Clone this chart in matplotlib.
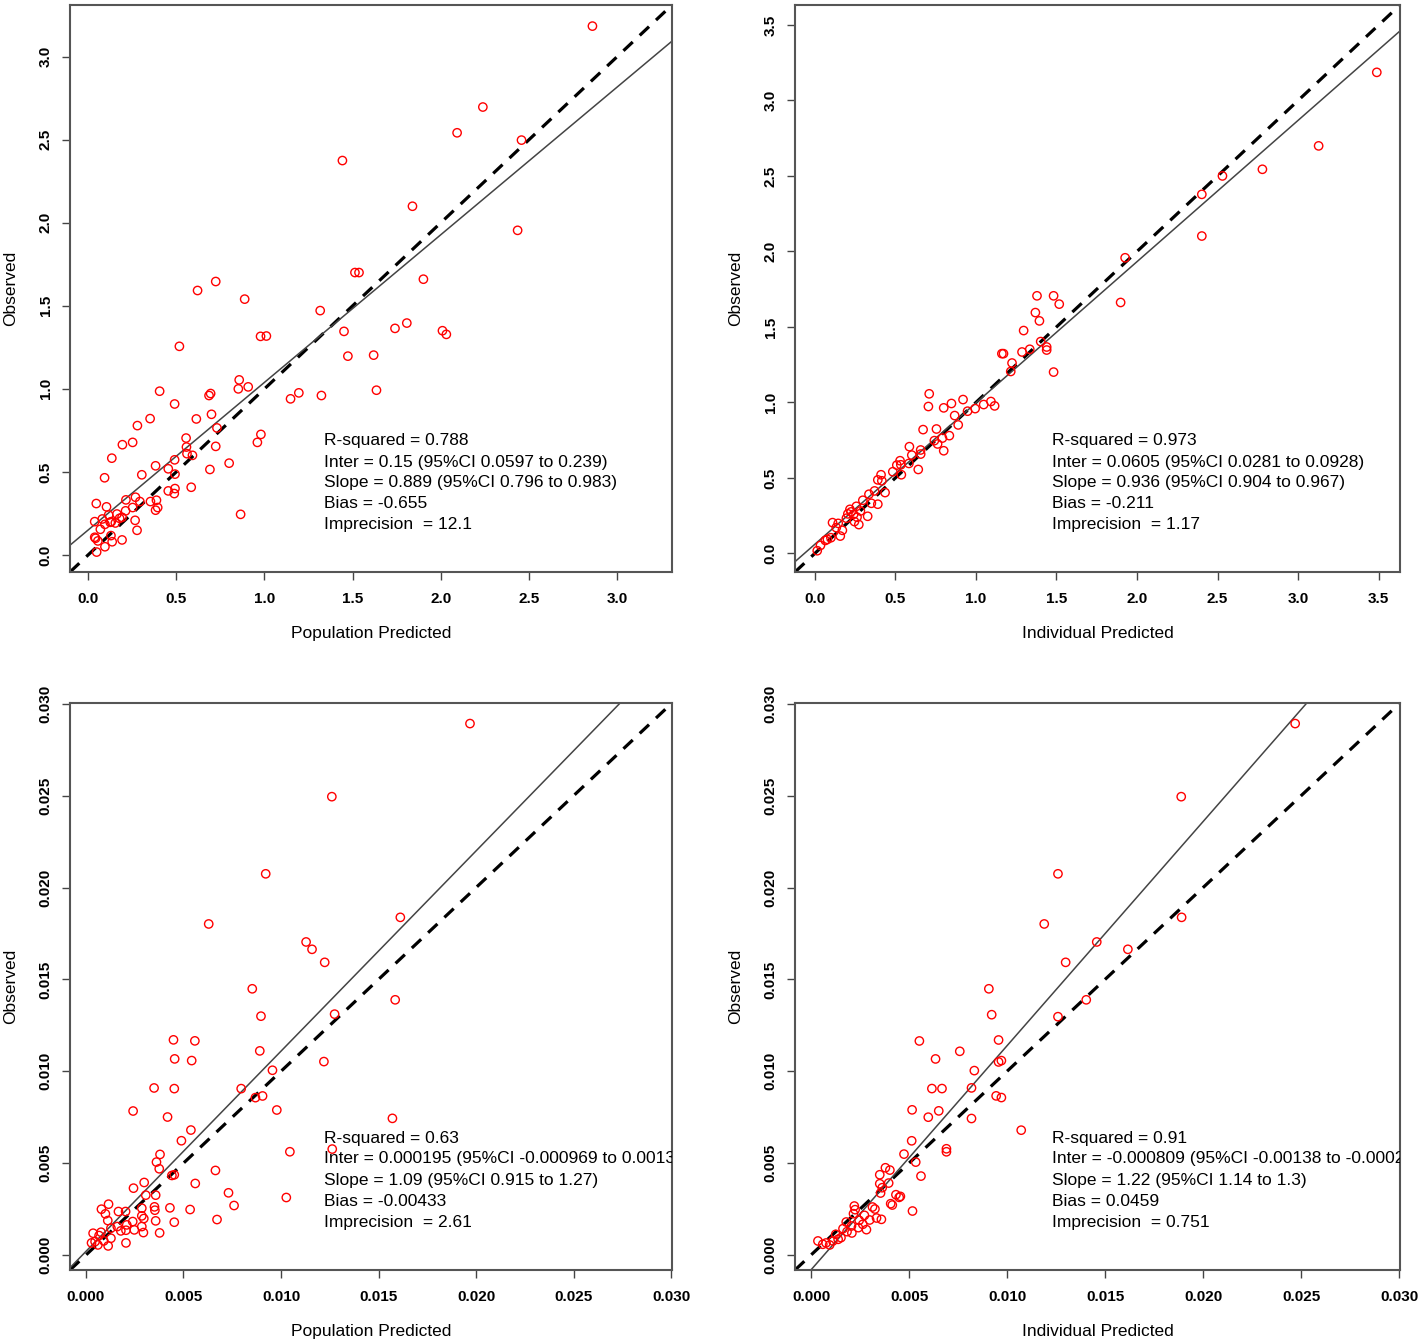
import matplotlib
matplotlib.use("Agg")
import matplotlib.pyplot as plt
import numpy as np

plt.rcParams['font.family'] = ['Liberation Sans', 'DejaVu Sans']

# ---------------- data ----------------
pop_pred_1 = [2.859, 2.238, 2.092, 2.457, 1.442, 1.839, 2.435, 1.513, 1.536, 1.901, 0.621, 0.724, 0.888,
              1.316, 1.451, 1.740, 1.807, 2.009, 2.031, 0.978, 1.011, 0.518, 1.473, 1.619, 0.857, 0.852,
              0.908, 0.406, 0.686, 0.695, 1.148, 1.195, 1.323, 1.635, 0.491, 0.352, 0.614, 0.700, 0.280,
              0.731, 0.195, 0.253, 0.556, 0.558, 0.980, 0.960, 0.724, 0.135, 0.561, 0.592, 0.491, 0.383,
              0.455, 0.691, 0.800, 0.305, 0.493, 0.094, 0.455, 0.493, 0.489, 0.585, 0.215, 0.269, 0.294,
              0.354, 0.388, 0.383, 0.395, 0.047, 0.105, 0.253, 0.213, 0.164, 0.179, 0.193, 0.081, 0.117,
              0.038, 0.126, 0.132, 0.267, 0.096, 0.155, 0.070, 0.278, 0.130, 0.038, 0.043, 0.056, 0.137,
              0.193, 0.096, 0.049, 0.865]
obs_1 = [3.183, 2.696, 2.541, 2.497, 2.374, 2.099, 1.954, 1.700, 1.700, 1.660, 1.592, 1.646, 1.540,
         1.471, 1.346, 1.364, 1.396, 1.350, 1.328, 1.316, 1.318, 1.256, 1.197, 1.203, 1.054, 1.000,
         1.012, 0.986, 0.960, 0.972, 0.940, 0.976, 0.960, 0.992, 0.909, 0.821, 0.819, 0.847, 0.779,
         0.765, 0.664, 0.678, 0.704, 0.650, 0.726, 0.678, 0.654, 0.583, 0.610, 0.600, 0.573, 0.537,
         0.519, 0.515, 0.553, 0.483, 0.487, 0.465, 0.386, 0.400, 0.370, 0.408, 0.332, 0.348, 0.322,
         0.322, 0.330, 0.270, 0.286, 0.310, 0.290, 0.286, 0.266, 0.247, 0.221, 0.227, 0.217, 0.241,
         0.201, 0.197, 0.201, 0.209, 0.185, 0.193, 0.155, 0.149, 0.117, 0.107, 0.101, 0.085, 0.080,
         0.091, 0.050, 0.018, 0.245]

ind_pred_2 = [3.488, 3.127, 2.778, 2.530, 2.402, 2.402, 1.926, 1.379, 1.482, 1.898, 1.517, 1.369, 1.394,
              1.296, 1.402, 1.334, 1.286, 1.439, 1.439, 1.161, 1.171, 1.224, 1.216, 1.482, 0.710, 0.705,
              0.800, 0.848, 0.920, 0.868, 0.948, 0.995, 1.048, 1.093, 1.116, 0.890, 0.672, 0.755, 0.742,
              0.792, 0.835, 0.762, 0.800, 0.587, 0.657, 0.657, 0.602, 0.529, 0.509, 0.534, 0.584, 0.484,
              0.537, 0.642, 0.411, 0.391, 0.416, 0.371, 0.436, 0.336, 0.298, 0.351, 0.391, 0.258, 0.218,
              0.283, 0.328, 0.273, 0.241, 0.196, 0.246, 0.110, 0.145, 0.171, 0.158, 0.100, 0.065, 0.035,
              0.015, 0.133, 0.078, 0.225, 0.262, 0.205]
obs_2 = [3.186, 2.699, 2.544, 2.500, 2.378, 2.102, 1.958, 1.706, 1.706, 1.662, 1.651, 1.595, 1.540,
         1.476, 1.403, 1.352, 1.334, 1.367, 1.347, 1.323, 1.323, 1.261, 1.205, 1.201, 1.057, 0.973,
         0.964, 0.993, 1.019, 0.913, 0.942, 0.959, 0.986, 1.006, 0.977, 0.851, 0.820, 0.824, 0.747,
         0.764, 0.780, 0.725, 0.680, 0.707, 0.685, 0.658, 0.651, 0.614, 0.585, 0.587, 0.596, 0.541,
         0.521, 0.556, 0.521, 0.487, 0.481, 0.414, 0.403, 0.392, 0.352, 0.332, 0.326, 0.312, 0.292,
         0.281, 0.246, 0.191, 0.259, 0.233, 0.211, 0.204, 0.199, 0.153, 0.115, 0.104, 0.086, 0.053,
         0.018, 0.171, 0.093, 0.275, 0.240, 0.262]

pop_pred_3 = [0.019691, 0.012607, 0.009216, 0.006293, 0.016119, 0.011287, 0.011591, 0.012241, 0.008526,
              0.015855, 0.008973, 0.012749, 0.004486, 0.005583, 0.004547, 0.005420, 0.008912, 0.012200,
              0.009562, 0.003492, 0.004527, 0.007958, 0.008689, 0.009054, 0.009785, 0.015713, 0.002416,
              0.004182, 0.005380, 0.004893, 0.012627, 0.010455, 0.003796, 0.003614, 0.003756, 0.006638,
              0.004405, 0.004527, 0.002984, 0.005603, 0.002436, 0.007308, 0.003066, 0.003573, 0.010272,
              0.007593, 0.001157, 0.000792, 0.001665, 0.002030, 0.002862, 0.003512, 0.003532, 0.004304,
              0.005339, 0.000995, 0.002862, 0.002964, 0.001117, 0.003573, 0.004527, 0.006719, 0.002396,
              0.002091, 0.001604, 0.002862, 0.002477, 0.002944, 0.003776, 0.001279, 0.001786, 0.002050,
              0.000365, 0.000771, 0.000670, 0.001279, 0.000914, 0.002050, 0.000284, 0.000609, 0.001137,
              0.000467]
obs_3 = [0.028930, 0.024950, 0.020750, 0.018020, 0.018380, 0.017040, 0.016640, 0.015930, 0.014490,
         0.013890, 0.013000, 0.013110, 0.011710, 0.011655, 0.010673, 0.010582, 0.011109, 0.010527,
         0.010055, 0.009091, 0.009055, 0.009055, 0.008564, 0.008655, 0.007891, 0.007436, 0.007836,
         0.007509, 0.006800, 0.006218, 0.005764, 0.005618, 0.005473, 0.005055, 0.004691, 0.004600,
         0.004327, 0.004364, 0.003945, 0.003891, 0.003636, 0.003382, 0.003255, 0.003255, 0.003127,
         0.002691, 0.002764, 0.002491, 0.002364, 0.002364, 0.002545, 0.002618, 0.002436, 0.002564,
         0.002473, 0.002236, 0.002127, 0.001982, 0.001873, 0.001855, 0.001782, 0.001927, 0.001818,
         0.001636, 0.001545, 0.001545, 0.001364, 0.001218, 0.001200, 0.001455, 0.001309, 0.001345,
         0.001182, 0.001236, 0.001055, 0.000909, 0.000764, 0.000655, 0.000655, 0.000545, 0.000491,
         0.000727]

ind_pred_4 = [0.024701, 0.018887, 0.012598, 0.011897, 0.018907, 0.014577, 0.016165, 0.012990, 0.009072,
              0.014041, 0.009216, 0.012598, 0.005526, 0.009567, 0.007588, 0.006351, 0.009567, 0.009711,
              0.008330, 0.006165, 0.006680, 0.008186, 0.009443, 0.009711, 0.005155, 0.006515, 0.005980,
              0.008186, 0.010722, 0.005134, 0.006907, 0.006907, 0.004742, 0.005340, 0.003794, 0.004021,
              0.003505, 0.005608, 0.003959, 0.003505, 0.003629, 0.003546, 0.004330, 0.004557, 0.004495,
              0.004062, 0.004144, 0.005175, 0.002206, 0.002247, 0.003134, 0.003258, 0.002722, 0.002165,
              0.002990, 0.003340, 0.003588, 0.001794, 0.002454, 0.002639, 0.002412, 0.002825, 0.002062,
              0.001629, 0.001835, 0.002082, 0.001258, 0.001381, 0.001113, 0.000763, 0.000351, 0.000948,
              0.000598, 0.001526]
obs_4 = [0.028930, 0.024950, 0.020750, 0.018020, 0.018380, 0.017040, 0.016640, 0.015930, 0.014490,
         0.013890, 0.013080, 0.012971, 0.011650, 0.011703, 0.011087, 0.010671, 0.010507, 0.010580,
         0.010036, 0.009058, 0.009058, 0.009094, 0.008660, 0.008569, 0.007900, 0.007844, 0.007500,
         0.007428, 0.006793, 0.006214, 0.005780, 0.005616, 0.005490, 0.005054, 0.004746, 0.004620,
         0.004366, 0.004293, 0.003913, 0.003877, 0.003660, 0.003370, 0.003279, 0.003188, 0.003134,
         0.002790, 0.002717, 0.002391, 0.002663, 0.002464, 0.002609, 0.002500, 0.002156, 0.002246,
         0.001902, 0.002011, 0.001938, 0.001793, 0.001884, 0.001667, 0.001486, 0.001377, 0.001576,
         0.001431, 0.001268, 0.001196, 0.001123, 0.000851, 0.000761, 0.000652, 0.000761, 0.000543,
         0.000580, 0.000942]

fit_inter = [0.15, 0.0605, 0.000195, -0.000809]
fit_slope = [0.889, 0.936, 1.09, 1.22]

stats_text = [
    ["R-squared = 0.788", "Inter = 0.15 (95%CI 0.0597 to 0.239)", "Slope = 0.889 (95%CI 0.796 to 0.983)",
     "Bias = -0.655", "Imprecision  = 12.1"],
    ["R-squared = 0.973", "Inter = 0.0605 (95%CI 0.0281 to 0.0928)", "Slope = 0.936 (95%CI 0.904 to 0.967)",
     "Bias = -0.211", "Imprecision  = 1.17"],
    ["R-squared = 0.63", "Inter = 0.000195 (95%CI -0.000969 to 0.00136)", "Slope = 1.09 (95%CI 0.915 to 1.27)",
     "Bias = -0.00433", "Imprecision  = 2.61"],
    ["R-squared = 0.91", "Inter = -0.000809 (95%CI -0.00138 to -0.000237)", "Slope = 1.22 (95%CI 1.14 to 1.3)",
     "Bias = 0.0459", "Imprecision  = 0.751"],
]
xlabels = ["Population Predicted", "Individual Predicted", "Population Predicted", "Individual Predicted"]
ylabel = "Observed"
ticks_top_left = [0.0, 0.5, 1.0, 1.5, 2.0, 2.5, 3.0]
ticks_top_right = [0.0, 0.5, 1.0, 1.5, 2.0, 2.5, 3.0, 3.5]
ticks_bottom = [0.000, 0.005, 0.010, 0.015, 0.020, 0.025, 0.030]

# ---------------- layout ----------------
W, H = 1418, 1342
fig = plt.figure(figsize=(W / 100, H / 100), dpi=100)

def frac_box(l, r, t, b):
    return [l / W, 1 - b / H, (r - l) / W, (b - t) / H]

boxes = [frac_box(70, 672, 5, 572), frac_box(795, 1400, 5, 572),
         frac_box(70, 672, 703, 1270), frac_box(795, 1400, 703, 1270)]
limits = [(-0.102, 3.31), (-0.123, 3.632), (-0.00082, 0.03005), (-0.00082, 0.03005)]
xs = [pop_pred_1, ind_pred_2, pop_pred_3, ind_pred_4]
ys = [obs_1, obs_2, obs_3, obs_4]
tick_sets = [ticks_top_left, ticks_top_right, ticks_bottom, ticks_bottom]
fmts = ["{:.1f}", "{:.1f}", "{:.3f}", "{:.3f}"]
text_tops = [441, 441, 1138, 1138]
text_lefts = [324, 1052, 324, 1052]

for i in range(4):
    ax = fig.add_axes(boxes[i])
    lo, hi = limits[i]
    ax.set_xlim(lo, hi)
    ax.set_ylim(lo, hi)
    ax.scatter(xs[i], ys[i], s=36, facecolors='none', edgecolors='#ff0000', linewidths=1.0, zorder=3)
    line_x = np.array([lo, hi])
    ax.plot(line_x, line_x, color='black', lw=2.3, ls=(0, (4.0, 3.0)), zorder=2)
    ax.plot(line_x, fit_inter[i] + fit_slope[i] * line_x, color='#444444', lw=1.1, zorder=2)

    ax.set_xticks(tick_sets[i])
    ax.set_yticks(tick_sets[i])
    ax.set_xticklabels([fmts[i].format(t) for t in tick_sets[i]], fontweight='bold', fontsize=11)
    ax.set_yticklabels([fmts[i].format(t) for t in tick_sets[i]], fontweight='bold', fontsize=11,
                       rotation=90, va='center')
    ax.tick_params(axis='both', direction='out', length=5.5, width=1.0, color='#444444')
    ax.tick_params(axis='x', pad=9)
    ax.tick_params(axis='y', pad=7)
    for sp in ax.spines.values():
        sp.set_color('#555555')
        sp.set_linewidth(1.5)

    ax.set_xlabel(xlabels[i], fontsize=12.5, labelpad=14)
    ax.set_ylabel(ylabel, fontsize=12.5, labelpad=15)

    b = boxes[i]
    ax_left_px = b[0] * W
    ax_bottom_px = (1 - b[1]) * H
    for k, line in enumerate(stats_text[i]):
        ypx = text_tops[i] + 21 * k
        fx = (text_lefts[i] - ax_left_px) / (b[2] * W)
        fy = (ax_bottom_px - ypx) / (b[3] * H)
        ax.text(fx, fy, line, transform=ax.transAxes, fontsize=12.5, ha='left', va='center',
                clip_on=True, zorder=4)

fig.savefig("out.png", dpi=100, facecolor='white')
